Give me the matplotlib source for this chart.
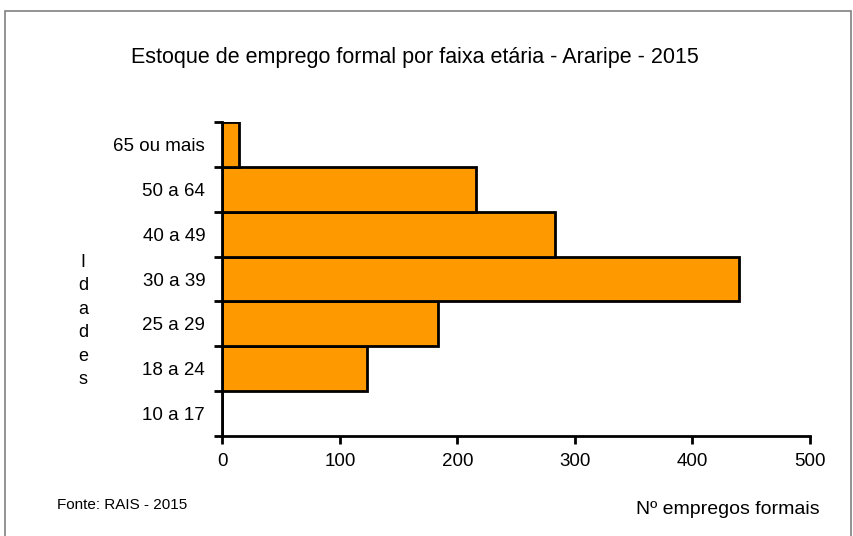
import matplotlib
matplotlib.use("Agg")
import matplotlib.pyplot as plt
from matplotlib.patches import Rectangle

# dados
faixas = ["10 a 17", "18 a 24", "25 a 29", "30 a 39", "40 a 49", "50 a 64", "65 ou mais"]
empregos = [0, 123, 183, 440, 283, 216, 14]
xticks = [0, 100, 200, 300, 400, 500]

plt.rcParams['font.family'] = ['Liberation Sans', 'DejaVu Sans']

fig = plt.figure(figsize=(8.54, 5.36), dpi=100)

# moldura cinza em volta do gráfico
fig.patches.append(Rectangle((5/854, -0.05), 846/854, 1.05 - 11/536,
                             transform=fig.transFigure, fill=False,
                             edgecolor="#808080", linewidth=1.2))

ax = fig.add_axes([222.5/854, 1 - 436/536, 587.5/854, 314/536])

pos = list(range(len(faixas)))
ax.barh(pos, empregos, height=1.0, color="#FF9900", edgecolor="black", linewidth=2)

ax.set_xlim(0, 500)
ax.set_ylim(-0.5, len(faixas) - 0.5)
ax.set_xticks(xticks)
ax.set_xticklabels([str(v) for v in xticks], fontsize=13.5)

# rótulos no centro, marcas nas divisões
ax.set_yticks(pos)
ax.set_yticklabels(faixas, fontsize=13.5)
ax.tick_params(axis='y', which='major', length=0, pad=12.5)
ax.set_yticks([p - 0.5 for p in pos] + [len(faixas) - 0.5], minor=True)
ax.tick_params(axis='y', which='minor', length=6, width=2, direction='out')
ax.tick_params(axis='x', length=6, width=2, direction='out', pad=6)

for s in ["top", "right"]:
    ax.spines[s].set_visible(False)
for s in ["left", "bottom"]:
    ax.spines[s].set_linewidth(2)

fig.text(415/854, 1 - 58/536, "Estoque de emprego formal por faixa etária - Araripe - 2015",
         ha="center", va="center", fontsize=15.5)
fig.text(83/854, 1 - 321/536, "I\nd\na\nd\ne\ns", ha="center", va="center",
         fontsize=13, linespacing=1.5)
fig.text(57/854, 1 - 505/536, "Fonte: RAIS - 2015", ha="left", va="center", fontsize=11)
fig.text(820/854, 1 - 510/536, "Nº empregos formais", ha="right", va="center", fontsize=14)

fig.savefig("out.png", dpi=100)
